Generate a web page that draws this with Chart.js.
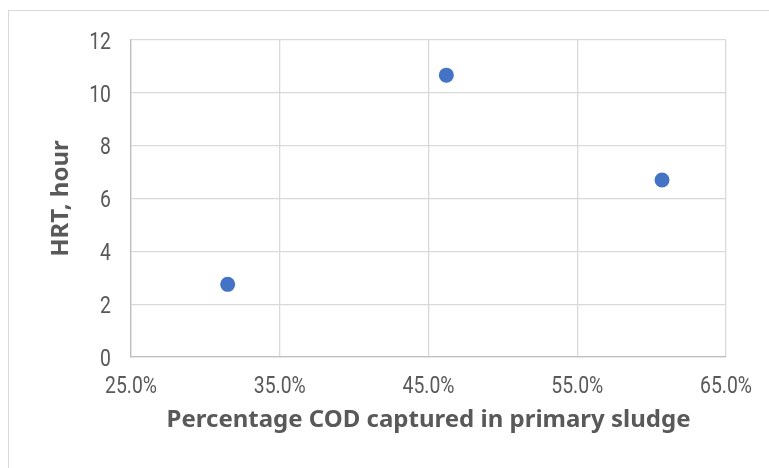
<!DOCTYPE html>
<html>
<head>
<meta charset="utf-8">
<style>
  html, body { margin: 0; padding: 0; background: #ffffff; overflow: hidden; }
  #frame { position: absolute; left: 8px; top: 10px; width: 800px; height: 500px; border: 1px solid #d9d9d9; box-sizing: border-box; }
  #wrap { position: absolute; left: 0; top: 0; width: 769px; height: 468px; }
</style>
<script src="https://cdn.jsdelivr.net/npm/chart.js@4/dist/chart.umd.min.js"></script>
</head>
<body>
<div id="frame"></div>
<div id="wrap"><canvas id="chart" width="769" height="468"></canvas></div>
<script>
// COD fraction captured in primary sludge (%) versus hydraulic retention time (h)
const codCaptured = [31.5, 46.2, 60.7];
const hrtHours = [2.75, 10.67, 6.7];
const xTicks = [25, 35, 45, 55, 65];
const yTicks = [0, 2, 4, 6, 8, 10, 12];

const textColor = '#595959';
const titleFont = { family: '"Noto Sans", "Open Sans", sans-serif', size: 24, weight: 'bold' };

// Tick labels are drawn in a horizontally condensed face
const tickStyle = { family: 'Roboto, "Liberation Sans", sans-serif', weight: 400, size: 24.5, squeeze: 0.79 };
const fmtX = v => v.toFixed(1) + '%';
const fmtY = v => String(v);

const condensedTicks = {
  id: 'condensedTicks',
  afterDraw(chart) {
    const { ctx, chartArea, scales } = chart;
    const digitHalf = tickStyle.size * 0.355;
    ctx.save();
    ctx.fillStyle = textColor;
    ctx.font = `${tickStyle.weight} ${tickStyle.size}px ${tickStyle.family}`;
    ctx.textBaseline = 'alphabetic';
    ctx.textAlign = 'center';
    scales.x.ticks.forEach(t => {
      const px = scales.x.getPixelForValue(t.value);
      ctx.save();
      ctx.translate(px, chartArea.bottom + 36);
      ctx.scale(tickStyle.squeeze, 1);
      ctx.fillText(fmtX(t.value), 0, 0);
      ctx.restore();
    });
    ctx.textAlign = 'right';
    scales.y.ticks.forEach(t => {
      const py = scales.y.getPixelForValue(t.value);
      ctx.save();
      ctx.translate(chartArea.left - 20, py + digitHalf);
      ctx.scale(tickStyle.squeeze, 1);
      ctx.fillText(fmtY(t.value), 0, 0);
      ctx.restore();
    });
    ctx.restore();
  }
};

const points = codCaptured.map((x, i) => ({ x: x, y: hrtHours[i] }));

new Chart(document.getElementById('chart'), {
  type: 'scatter',
  data: {
    datasets: [{
      data: points,
      backgroundColor: '#4472c4',
      borderColor: '#4472c4',
      borderWidth: 0,
      pointRadius: 7.5,
      pointHoverRadius: 7.5
    }]
  },
  plugins: [condensedTicks],
  options: {
    responsive: false,
    animation: false,
    layout: { padding: { left: 0, top: 40, right: 43, bottom: 0 } },
    plugins: { legend: { display: false }, tooltip: { enabled: false } },
    scales: {
      x: {
        type: 'linear',
        min: xTicks[0],
        max: xTicks[xTicks.length - 1],
        afterBuildTicks: s => { s.ticks = xTicks.map(v => ({ value: v })); },
        afterFit: s => { s.height = 111; },
        grid: { color: '#d9d9d9', lineWidth: 1.3, drawTicks: false },
        border: { color: '#bfbfbf', width: 1.3 },
        ticks: { display: false },
        title: {
          display: true,
          text: 'Percentage COD captured in primary sludge',
          color: textColor,
          font: titleFont,
          padding: { top: 0, bottom: 33 }
        }
      },
      y: {
        type: 'linear',
        min: yTicks[0],
        max: yTicks[yTicks.length - 1],
        afterBuildTicks: s => { s.ticks = yTicks.map(v => ({ value: v })); },
        afterFit: s => { s.width = 131; },
        grid: { color: '#d9d9d9', lineWidth: 1.3, drawTicks: false },
        border: { color: '#bfbfbf', width: 1.3 },
        ticks: { display: false },
        title: {
          display: true,
          text: 'HRT, hour',
          color: textColor,
          font: titleFont,
          padding: { top: 47, bottom: 0 }
        }
      }
    }
  }
});
</script>
</body>
</html>
